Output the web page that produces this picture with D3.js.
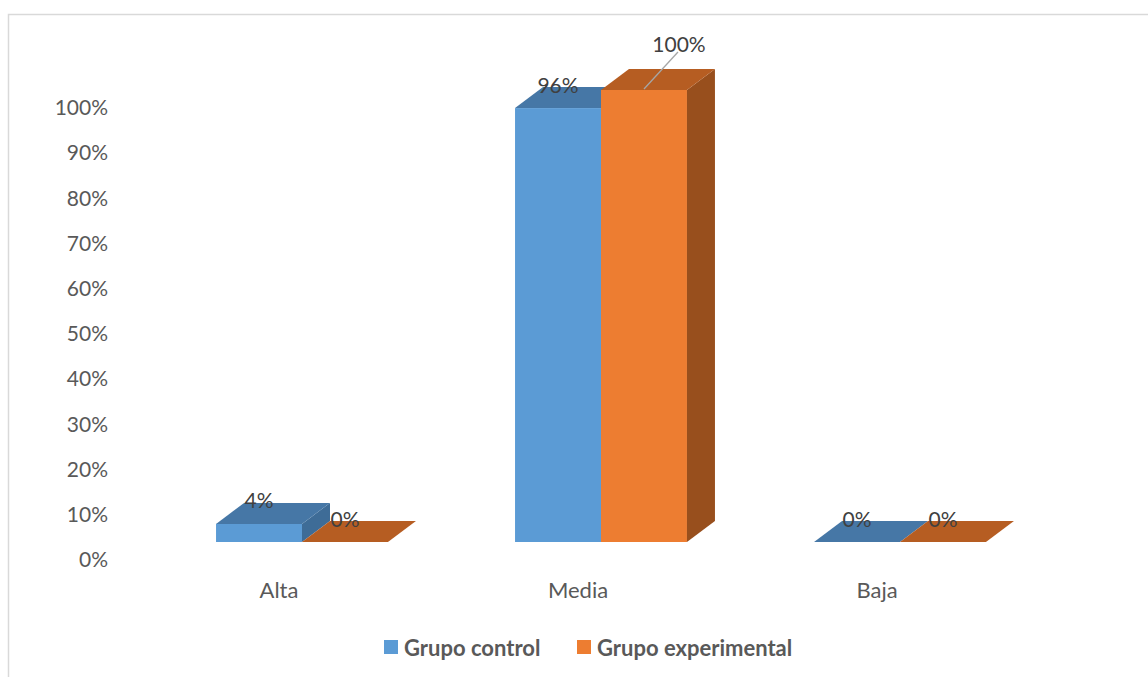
<!DOCTYPE html>
<html>
<head>
<meta charset="utf-8">
<script src="https://cdn.jsdelivr.net/npm/d3@7"></script>
<style>
  html, body { margin: 0; padding: 0; background: #fff; }
  svg { display: block; font-family: "Lato", "Open Sans", sans-serif; }
</style>
</head>
<body>
<svg id="chart" width="1148" height="677"></svg>
<script>
// Categories, series and tick labels
const categories = ["Alta", "Media", "Baja"];
const seriesNames = ["Grupo control", "Grupo experimental"];
const grupoControl = [0.04, 0.96, 0.00];
const grupoExperimental = [0.00, 1.00, 0.00];
const tickValues = [0, 0.1, 0.2, 0.3, 0.4, 0.5, 0.6, 0.7, 0.8, 0.9, 1.0];

const seriesValues = [grupoControl, grupoExperimental];
const palette = [
  { front: "#5B9BD5", top: "#4677A6", side: "#3E6C97" },
  { front: "#ED7D31", top: "#B65D22", side: "#984F1D" }
];

const svg = d3.select("#chart");
const W = 1148, H = 677;

// Chart area frame (continues past the right and bottom edges)
svg.append("rect")
  .attr("x", 8.5).attr("y", 14.5)
  .attr("width", W + 20).attr("height", H + 20)
  .attr("fill", "#fff").attr("stroke", "#D9D9D9").attr("stroke-width", 1.5);

// 3D depth offset of the bars
const depth = { dx: 28, dy: -21 };

const x = d3.scaleBand().domain(categories).range([152.5, 1049.5])
  .paddingInner(0.425).paddingOuter(0.2125);
const xs = d3.scaleBand().domain(seriesNames).range([0, x.bandwidth()]);
const y = d3.scaleLinear().domain([0, 1]).range([542, 90]);

// Value axis (labels sit slightly lower, on the floor's front edge)
const yAxis = d3.axisLeft(y).tickValues(tickValues)
  .tickFormat(d3.format(".0%")).tickSize(0).tickPadding(0);
const gy = svg.append("g").attr("transform", "translate(108,18)").call(yAxis);
gy.select(".domain").remove();
gy.selectAll("text").attr("fill", "#595959").style("font-size", "21px")
  .style("font-family", "Lato, 'Open Sans', sans-serif");

// Category axis labels
const xAxis = d3.axisBottom(x).tickSize(0).tickPadding(0);
const gx = svg.append("g").attr("transform", "translate(-23,582)").call(xAxis);
gx.select(".domain").remove();
gx.selectAll("text").attr("fill", "#595959").style("font-size", "22px")
  .style("font-family", "Lato, 'Open Sans', sans-serif");

// Bars drawn as boxes: front, top and right faces
const bars = svg.append("g");
const labels = svg.append("g");
const pts = a => a.map(p => p.join(",")).join(" ");

categories.forEach((cat, ci) => {
  seriesNames.forEach((s, si) => {
    const v = seriesValues[si][ci];
    const x0 = x(cat) + xs(s);
    const x1 = x0 + xs.bandwidth();
    const yb = y(0), yt = y(v);
    const c = palette[si];
    const g = bars.append("g");
    if (yb - yt > 0.5) {
      g.append("rect").attr("x", x0).attr("y", yt)
        .attr("width", x1 - x0).attr("height", yb - yt).attr("fill", c.front);
      g.append("polygon").attr("fill", c.side).attr("points", pts([
        [x1, yt], [x1 + depth.dx, yt + depth.dy],
        [x1 + depth.dx, yb + depth.dy], [x1, yb]]));
    }
    g.append("polygon").attr("fill", c.top).attr("points", pts([
      [x0, yt], [x1, yt], [x1 + depth.dx, yt + depth.dy], [x0 + depth.dx, yt + depth.dy]]));

    // Data label
    const cx = (x0 + x1) / 2;
    let lx = cx, ly = yt + depth.dy - 3;
    if (v >= 1) {
      // Label moved above with a leader line
      labels.append("line")
        .attr("x1", cx).attr("y1", yt - 1)
        .attr("x2", cx + 34).attr("y2", yt - 38)
        .attr("stroke", "#A6A6A6").attr("stroke-width", 1.3);
      lx = cx + 35; ly = yt - 47;
    }
    labels.append("text")
      .attr("x", lx).attr("y", ly)
      .attr("text-anchor", "middle").attr("dominant-baseline", "central")
      .attr("fill", "#404040").style("font-size", "21px")
      .text(d3.format(".0%")(v));
  });
});

// Legend
const legend = svg.append("g").attr("transform", "translate(384,640)");
const legendX = [0, 193];
seriesNames.forEach((s, i) => {
  const lg = legend.append("g").attr("transform", `translate(${legendX[i]},0)`);
  lg.append("rect").attr("width", 14).attr("height", 14).attr("fill", palette[i].front);
  lg.append("text").attr("x", 20).attr("y", 7)
    .attr("dominant-baseline", "central")
    .attr("fill", "#595959").style("font-size", "22px").style("font-weight", "bold")
    .text(s);
});
</script>
</body>
</html>
